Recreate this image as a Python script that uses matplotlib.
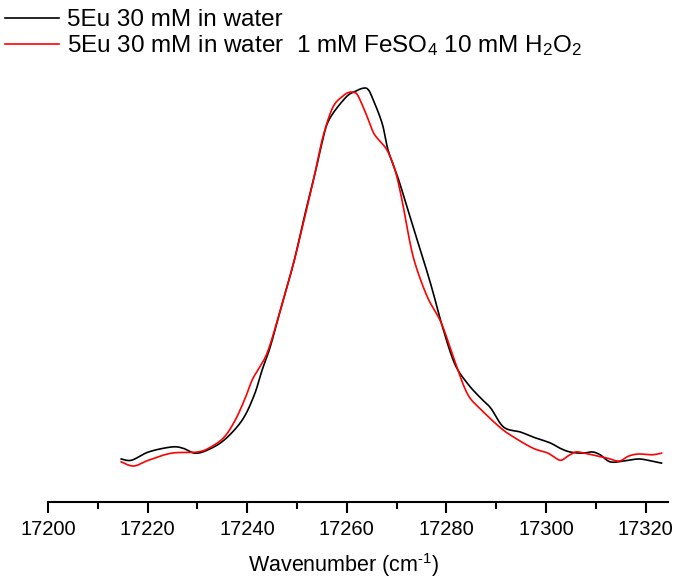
import numpy as np
import matplotlib.pyplot as plt
from matplotlib.ticker import MultipleLocator

plt.rcParams['font.family'] = ['Liberation Sans', 'DejaVu Sans']
plt.rcParams['mathtext.fontset'] = 'custom'
plt.rcParams['mathtext.rm'] = 'Liberation Sans'
plt.rcParams['mathtext.it'] = 'Liberation Sans:italic'

# 5Eu 30 mM in water (normalised intensity)
wn_black = [17214.7, 17216.8, 17220.2, 17224.8, 17227.1, 17229.5, 17232.1, 17235.4,
            17239.0, 17241.4, 17243.0, 17244.6, 17246.5, 17249.3, 17251.3, 17253.3,
            17254.9, 17256.4, 17259.8, 17261.8, 17263.2, 17264.2, 17265.1, 17267.1,
            17268.3, 17270.1, 17271.7, 17273.7, 17275.6, 17277.2, 17279.0, 17281.6,
            17284.2, 17286.9, 17288.9, 17291.5, 17294.9, 17297.4, 17300.8, 17302.8,
            17304.8, 17307.3, 17309.3, 17310.9, 17312.9, 17315.6, 17318.6, 17321.2,
            17323.2]
int_black = [0.104, 0.101, 0.121, 0.133, 0.130, 0.118, 0.126, 0.150,
             0.198, 0.258, 0.319, 0.374, 0.457, 0.577, 0.681, 0.778,
             0.862, 0.923, 0.978, 0.993, 1.000, 0.998, 0.978, 0.915,
             0.850, 0.790, 0.729, 0.650, 0.577, 0.512, 0.432, 0.336,
             0.287, 0.251, 0.227, 0.181, 0.169, 0.157, 0.143, 0.130,
             0.121, 0.118, 0.121, 0.114, 0.097, 0.099, 0.104, 0.099,
             0.094]

# with 1 mM FeSO4 + 10 mM H2O2
wn_red = [17214.7, 17217.2, 17220.2, 17224.8, 17230.1, 17232.7, 17235.4, 17237.6,
          17239.6, 17241.0, 17242.4, 17244.0, 17245.9, 17249.3, 17251.3, 17253.3,
          17255.2, 17257.2, 17259.2, 17260.4, 17261.4, 17262.2, 17263.8, 17265.3,
          17266.5, 17268.1, 17269.7, 17271.1, 17272.3, 17273.7, 17276.2, 17279.0,
          17281.6, 17284.2, 17286.9, 17290.9, 17293.5, 17297.4, 17300.4, 17302.8,
          17304.4, 17306.0, 17307.7, 17309.3, 17312.3, 17314.7, 17316.6, 17318.6,
          17321.2, 17323.2]
int_red = [0.097, 0.087, 0.101, 0.118, 0.121, 0.133, 0.157, 0.198,
           0.251, 0.295, 0.324, 0.360, 0.432, 0.577, 0.676, 0.778,
           0.882, 0.954, 0.981, 0.990, 0.990, 0.983, 0.940, 0.894,
           0.874, 0.850, 0.802, 0.729, 0.650, 0.577, 0.495, 0.432,
           0.343, 0.262, 0.224, 0.179, 0.157, 0.130, 0.118, 0.101,
           0.111, 0.121, 0.118, 0.114, 0.106, 0.099, 0.111, 0.116,
           0.114, 0.118]

labels = ['5Eu 30 mM in water',
          '5Eu 30 mM in water  1 mM FeSO$_4$ 10 mM H$_2$O$_2$']


def smooth(x, y, n=1200):
    # Catmull-Rom densify so the traces look continuous
    x = np.asarray(x, float)
    y = np.asarray(y, float)
    ts = np.linspace(0, len(x) - 1, n)

    def cr(p):
        pp = np.concatenate([[p[0]], p, [p[-1]]])
        i = np.minimum(ts.astype(int), len(p) - 2)
        u = ts - i
        p0, p1, p2, p3 = pp[i], pp[i + 1], pp[i + 2], pp[i + 3]
        return 0.5 * ((2 * p1) + (-p0 + p2) * u +
                      (2 * p0 - 5 * p1 + 4 * p2 - p3) * u ** 2 +
                      (-p0 + 3 * p1 - 3 * p2 + p3) * u ** 3)
    return cr(x), cr(y)


fig = plt.figure(figsize=(6.79, 5.8), dpi=100)
ax = fig.add_axes([48 / 679, 1 - 502 / 580, 620 / 679, 422 / 580])

xb, yb = smooth(wn_black, int_black)
xr, yr = smooth(wn_red, int_red)
ax.plot(xb, yb, color='black', lw=1.2, label=labels[0])
ax.plot(xr, yr, color='red', lw=1.2, label=labels[1])

ax.set_xlim(17200, 17324.5)
ax.set_ylim(0, 1.02)
ax.xaxis.set_major_locator(MultipleLocator(20))
ax.xaxis.set_minor_locator(MultipleLocator(10))
ax.tick_params(axis='x', which='major', direction='out', length=8, width=1.5,
               labelsize=14.5, pad=5)
ax.tick_params(axis='x', which='minor', direction='out', length=5, width=1.5)
ax.set_yticks([])
for s in ['left', 'right', 'top']:
    ax.spines[s].set_visible(False)
ax.spines['bottom'].set_linewidth(1.5)
ax.set_xlabel(r'Wavenumber (cm$^{\text{-1}}$)', fontsize=15.5)
ax.xaxis.set_label_coords(0.477, -0.117)

fig.legend(loc='upper left', bbox_to_anchor=(5 / 679, 1 - 9 / 580), frameon=False,
           fontsize=17.5, handlelength=2.23, handletextpad=0.33,
           labelspacing=0.1, borderpad=0.0, borderaxespad=0.0)

fig.savefig('out.png', dpi=100)
